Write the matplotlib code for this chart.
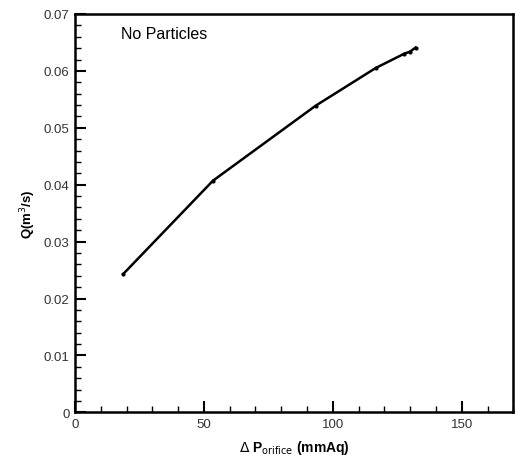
import numpy as np
import matplotlib
matplotlib.use("Agg")
import matplotlib.pyplot as plt
from matplotlib.ticker import MultipleLocator

# orifice pressure drop (mmAq) vs flow rate (m3/s)
dp = [18.7, 53.5, 93.4, 116.6, 127.6, 130.0, 132.1]
q = [0.0243, 0.0407, 0.0539, 0.0605, 0.0630, 0.0634, 0.0641]

plt.rcParams['font.family'] = ['Liberation Sans', 'DejaVu Sans']

fig = plt.figure(figsize=(5.15, 4.6), dpi=100)
ax = fig.add_axes([0.1456, 0.1015, 0.8511, 0.8659])

ax.plot(dp, q, color='black', linewidth=1.8, marker='o', ms=2.0)

ax.set_xlim(0, 170)
ax.set_ylim(0, 0.07)
ax.xaxis.set_major_locator(MultipleLocator(50))
ax.xaxis.set_minor_locator(MultipleLocator(10))
ax.yaxis.set_minor_locator(MultipleLocator(0.002))
ax.set_yticks(np.arange(0, 0.0701, 0.01))
ax.set_yticklabels(['0', '0.01', '0.02', '0.03', '0.04', '0.05', '0.06', '0.07'])

ax.tick_params(which='major', direction='in', length=8, width=1.5,
               labelsize=9.5, labelcolor='#333333', pad=4)
ax.tick_params(which='minor', direction='in', length=4, width=1)
for s in ax.spines.values():
    s.set_linewidth(1.8)

ax.text(18, 0.0665, 'No Particles', fontsize=11.5, va='center', ha='left')

ax.set_xlabel(r'$\Delta$' + ' P' + r'$_{\rm orifice}$' + ' (mmAq)',
              fontsize=10, fontweight='bold', labelpad=6)
ax.set_ylabel(r'Q(m$^3$/s)', fontsize=9.5, fontweight='bold', labelpad=4)

fig.savefig('out.png', dpi=100)
